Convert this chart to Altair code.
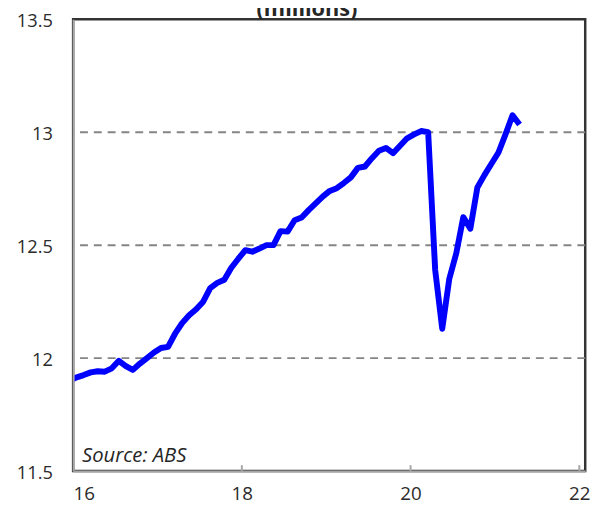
import altair as alt
import pandas as pd

# Employed persons (millions), monthly, Dec 2015 - Apr 2021
years = [2015] + [2016] * 12 + [2017] * 12 + [2018] * 12 + [2019] * 12 + [2020] * 12 + [2021] * 4
months = [12] + list(range(1, 13)) * 5 + [1, 2, 3, 4]
employed = [
    11.900,
    11.915, 11.925, 11.937, 11.942, 11.940, 11.955, 11.988, 11.965, 11.948, 11.976, 12.000, 12.025,
    12.045, 12.050, 12.108, 12.155, 12.190, 12.216, 12.250, 12.310, 12.333, 12.347, 12.400, 12.440,
    12.478, 12.471, 12.485, 12.500, 12.500, 12.562, 12.560, 12.610, 12.622, 12.655, 12.685, 12.715,
    12.740, 12.752, 12.775, 12.800, 12.842, 12.848, 12.885, 12.918, 12.930, 12.907, 12.940, 12.973,
    12.990, 13.005, 13.000, 12.390, 12.130, 12.350, 12.464, 12.624, 12.573, 12.755, 12.810, 12.860,
    12.910, 12.990, 13.075, 13.034,
]

x_tick_values = [16, 18, 20, 22]
inner_tick_values = [18, 20, 22]
y_tick_values = [11.5, 12, 12.5, 13, 13.5]
grid_values = [12, 12.5, 13]

title_text = "(millions)"
source_text = "Source: ABS"

df = pd.DataFrame({"year": years, "month": months, "employed": employed})
df["t"] = df["year"] - 2000 + (df["month"] - 0.5) / 12

W, H = 519, 458
FONT = "Open Sans"
LABEL_COLOR = "#2b2b2b"
AXIS_GRAY = "#a6a6a6"

x_scale = alt.Scale(domain=[16, 22.07], nice=False, zero=False)
y_scale = alt.Scale(domain=[11.5, 13.5], nice=False, zero=False)

x_axis = alt.Axis(
    values=x_tick_values, format="d", title=None, grid=False,
    ticks=False, tickSize=0, labelPadding=14,
    labelFontSize=19, labelFont=FONT, labelColor=LABEL_COLOR,
    domainColor=AXIS_GRAY, domainWidth=2, zindex=1,
)
y_axis = alt.Axis(
    values=y_tick_values, format="~g", title=None, grid=False,
    ticks=False, tickSize=0, labelPadding=21, labelOffset=1.5,
    labelFontSize=18.5, labelFont=FONT, labelColor=LABEL_COLOR,
    domainColor=AXIS_GRAY, domainWidth=2, zindex=1,
)

grid = alt.Chart(pd.DataFrame({"g": grid_values})).mark_rule(
    color="#858585", strokeWidth=2, strokeDash=[8, 6]
).encode(y=alt.Y("g:Q", scale=y_scale, axis=y_axis))

inner_ticks = alt.Chart(pd.DataFrame({"tx": inner_tick_values})).mark_rule(
    color=AXIS_GRAY, strokeWidth=2
).encode(
    x=alt.X("tx:Q", scale=x_scale, axis=x_axis),
    y=alt.value(H),
    y2=alt.value(H - 6),
)

line = alt.Chart(df).mark_line(
    color="#0000ff", strokeWidth=6, clip=True, strokeJoin="round"
).encode(
    x=alt.X("t:Q", scale=x_scale, axis=x_axis),
    y=alt.Y("employed:Q", scale=y_scale, axis=y_axis),
)

source = alt.Chart(pd.DataFrame({"s": [source_text]})).mark_text(
    font=FONT, fontSize=20.5, fontStyle="italic", color="#262626",
    align="left", baseline="alphabetic",
).encode(text="s:N", x=alt.value(9), y=alt.value(449))

title = alt.Chart(pd.DataFrame({"s": [title_text]})).mark_text(
    font=FONT, fontSize=22, fontWeight="bold", color="#262626",
    align="center", baseline="alphabetic",
).encode(text="s:N", x=alt.value(237), y=alt.value(-3))

chart = alt.layer(grid, inner_ticks, line, source, title).properties(
    width=W, height=H,
    autosize=alt.AutoSizeParams(type="none"),
    padding={"left": 66, "top": 8, "right": 16, "bottom": 31},
    background="white",
).configure_view(
    stroke="#333333", strokeWidth=2.5
)

chart.save("out.html", embed_options={"renderer": "svg", "actions": False})
